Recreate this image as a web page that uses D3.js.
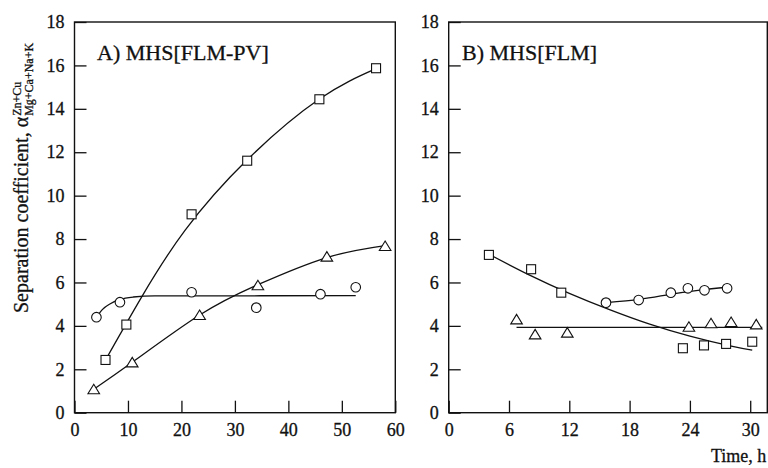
<!DOCTYPE html>
<html>
<head>
<meta charset="utf-8">
<script src="https://cdn.jsdelivr.net/npm/d3@7/dist/d3.min.js"></script>
<style>
  html, body { margin: 0; padding: 0; background: #fff; }
  svg { display: block; }
  svg text { font-family: "Liberation Serif", "DejaVu Serif", serif !important; fill: #111; stroke: #111; stroke-width: 0.3px; }
</style>
</head>
<body>
<svg id="chart" width="768" height="468" font-family="Liberation Serif, serif"></svg>
<script>
// ---- Data: separation coefficient vs. time (h) ----
const yTicks = [0, 2, 4, 6, 8, 10, 12, 14, 16, 18];
const xTicksA = [0, 10, 20, 30, 40, 50, 60];
const xTicksB = [0, 6, 12, 18, 24, 30];

// Panel A) MHS[FLM-PV]
const aSquares   = [[5.8, 2.43], [9.7, 4.06], [21.9, 9.14], [32.3, 11.61], [45.8, 14.44], [56.4, 15.87]];
const aCircles   = [[4.1, 4.40], [8.5, 5.09], [21.9, 5.55], [34.0, 4.84], [46.0, 5.46], [52.6, 5.78]];
const aTriangles = [[3.6, 1.08], [10.8, 2.32], [23.4, 4.50], [34.3, 5.87], [47.2, 7.19], [58.1, 7.68]];
// fitted trend curves, panel A
const aSquareFit   = [[5.8, 2.43], [12.6, 5.35], [20.7, 8.41], [32.3, 11.65], [45.8, 14.45], [56.4, 15.85]];
const aCircleFit   = [[4.1, 4.40], [5.2, 4.75], [6.7, 5.02], [8.5, 5.22], [11, 5.33], [15, 5.38], [52.6, 5.39]];
const aTriangleFit = [[3.6, 1.08], [10.8, 2.32], [23.4, 4.50], [34.3, 5.90], [47.2, 7.15], [58.1, 7.70]];

// Panel B) MHS[FLM]
const bSquares   = [[4.0, 7.27], [8.2, 6.61], [11.2, 5.53], [23.3, 2.97], [25.4, 3.10], [27.6, 3.17], [30.2, 3.27]];
const bCircles   = [[15.65, 5.07], [18.9, 5.19], [22.1, 5.53], [23.8, 5.73], [25.45, 5.64], [27.7, 5.73]];
const bTriangles = [[6.75, 4.30], [8.6, 3.61], [11.8, 3.69], [23.9, 3.96], [26.1, 4.12], [28.1, 4.18], [30.6, 4.07]];
// fitted trend curves, panel B
const bSquareFit   = [[4.0, 7.30], [8, 6.35], [12, 5.50], [16, 4.75], [20, 4.08], [24, 3.53], [28, 3.08], [30.2, 2.88]];
const bCircleFit   = [[15.65, 5.07], [19, 5.22], [22, 5.45], [25, 5.65], [27.7, 5.78]];
const bTriangleFit = [[6.75, 3.93], [31.2, 3.93]];

const svg = d3.select("#chart");
const ink = "#111";
const serif = "Liberation Serif, serif";

const y = d3.scaleLinear().domain([0, 18]).range([412.7, 22]);

function panel(opts) {
  const x = d3.scaleLinear().domain(opts.xDomain).range(opts.xRange);
  const g = svg.append("g");

  // frame
  g.append("rect")
    .attr("x", opts.xRange[0]).attr("y", y(18))
    .attr("width", opts.xRange[1] - opts.xRange[0])
    .attr("height", y(0) - y(18))
    .attr("fill", "none").attr("stroke", ink).attr("stroke-width", 1.4);

  // y axis, ticks pointing inward
  const ya = g.append("g").attr("transform", `translate(${opts.xRange[0]},0)`)
    .call(d3.axisLeft(y).tickValues(yTicks).tickSizeInner(-12).tickSizeOuter(0).tickPadding(10));
  // x axis
  const xa = g.append("g").attr("transform", `translate(0,${y(0)})`)
    .call(d3.axisBottom(x).tickValues(opts.xTicks).tickSizeInner(-12).tickSizeOuter(0).tickPadding(11));

  [ya, xa].forEach(a => {
    a.attr("font-family", serif).attr("font-size", 18);
    a.select(".domain").remove();
    a.selectAll("line").attr("stroke", ink).attr("stroke-width", 1.3);
    a.selectAll("text").attr("fill", ink);
  });

  // title
  g.append("text").attr("x", opts.titleX).attr("y", 60)
    .attr("font-size", 22).text(opts.title);

  opts.fits.forEach(f => {
    const line = d3.line().x(d => x(d[0])).y(d => y(d[1])).curve(f.curve);
    g.append("path").attr("d", line(f.pts)).attr("fill", "none")
      .attr("stroke", ink).attr("stroke-width", 1.3);
  });

  // markers: hollow squares, circles, triangles
  g.selectAll(null).data(opts.squares).join("rect")
    .attr("x", d => x(d[0]) - 4.5).attr("y", d => y(d[1]) - 4.5)
    .attr("width", 9).attr("height", 9)
    .attr("fill", "#fff").attr("stroke", ink).attr("stroke-width", 1.1);
  g.selectAll(null).data(opts.circles).join("circle")
    .attr("cx", d => x(d[0])).attr("cy", d => y(d[1])).attr("r", 4.8)
    .attr("fill", "#fff").attr("stroke", ink).attr("stroke-width", 1.1);
  g.selectAll(null).data(opts.triangles).join("path")
    .attr("d", d => {
      const cx = x(d[0]), cy = y(d[1]);
      return `M${cx},${cy - 5}L${cx + 5.8},${cy + 4.5}L${cx - 5.8},${cy + 4.5}Z`;
    })
    .attr("fill", "#fff").attr("stroke", ink).attr("stroke-width", 1.1);
}

panel({
  xDomain: [0, 60], xRange: [74.5, 395.3], xTicks: xTicksA,
  title: "A) MHS[FLM-PV]", titleX: 97,
  fits: [
    { pts: aSquareFit, curve: d3.curveNatural },
    { pts: aCircleFit, curve: d3.curveMonotoneX },
    { pts: aTriangleFit, curve: d3.curveNatural }
  ],
  squares: aSquares, circles: aCircles, triangles: aTriangles
});

panel({
  xDomain: [0, 31.7], xRange: [448.7, 767.3], xTicks: xTicksB,
  title: "B) MHS[FLM]", titleX: 462,
  fits: [
    { pts: bSquareFit, curve: d3.curveNatural },
    { pts: bCircleFit, curve: d3.curveNatural },
    { pts: bTriangleFit, curve: d3.curveLinear }
  ],
  squares: bSquares, circles: bCircles, triangles: bTriangles
});

// y-axis title with the alpha sub/superscripts
const lab = svg.append("g").attr("transform", "translate(28,313) rotate(-90)");
const mainLab = lab.append("text").attr("font-size", 20).text("Separation coefficient, α");
const L = mainLab.node().getComputedTextLength();
lab.append("text").attr("x", L + 1).attr("y", 5).attr("font-size", 12).text("Mg+Ca+Na+K");
lab.append("text").attr("x", L + 1).attr("y", -7).attr("font-size", 12).text("Zn+Cu");

// x-axis title
svg.append("text").attr("x", 711).attr("y", 462).attr("font-size", 18).text("Time, h");
</script>
</body>
</html>
